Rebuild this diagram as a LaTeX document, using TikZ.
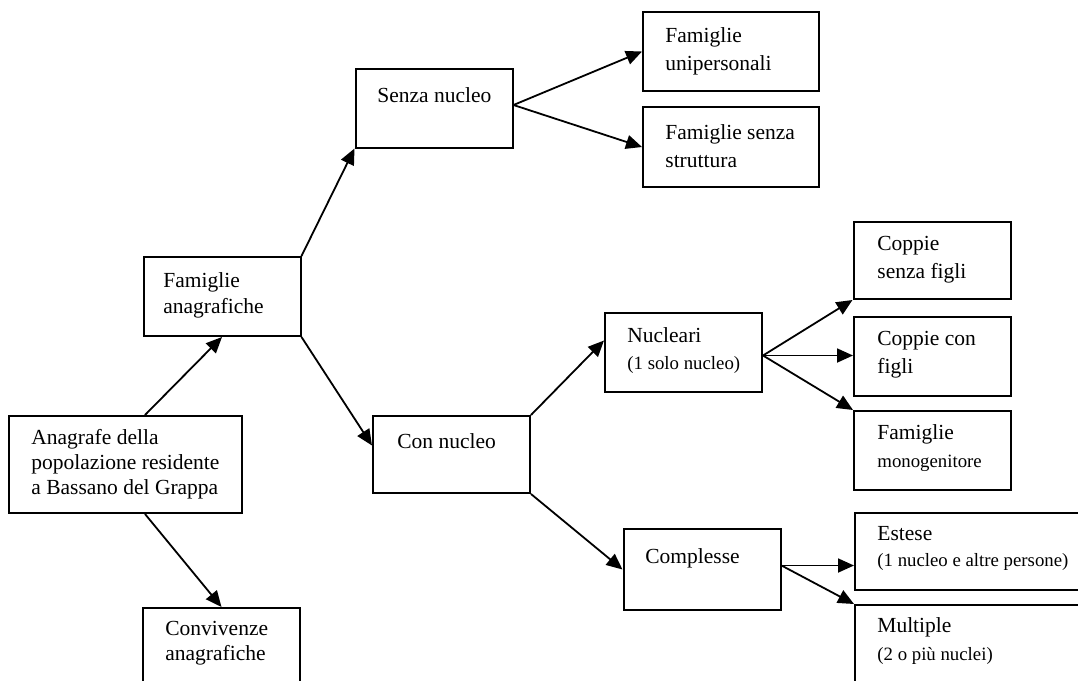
\documentclass[tikz,border=0pt]{standalone}
\usepackage{fontspec}
\setmainfont{Liberation Serif}
\usetikzlibrary{arrows.meta}

\begin{document}
\begin{tikzpicture}[x=0.5pt, y=-0.5pt,
    box/.style={draw, line width=1pt, inner sep=0pt, minimum width=78.5pt, minimum height=39.5pt},
    txt/.style={anchor=base west, inner sep=0pt, align=left, font=\fontsize{10.75}{14}\selectfont},
    tight/.style={font=\fontsize{10.75}{12.5}\selectfont},
    arr/.style={-{Triangle[length=8pt,width=7pt]}, line width=0.9pt}]
        \useasboundingbox (0,0) rectangle (1078,681);
        \clip (0,0) rectangle (1078,681);
        \newcommand{\sml}{\fontsize{9.4}{14}\selectfont}

        % first level (text nodes sit on the baseline of their last line)
        \node[box, minimum width=116.5pt, minimum height=48.5pt] (ana) at (125.5,464.5) {};
        \node[txt, tight] (ana-t) at (31,494) {Anagrafe della\\popolazione residente\\a Bassano del Grappa};

        \node[box] (fa) at (222,296.5) {};
        \node[txt, font=\fontsize{10.75}{13}\selectfont] (fa-t) at (163,313) {Famiglie\\anagrafiche};

        \node[box, minimum height=42pt] (conv) at (221.5,650) {};
        \node[txt, tight] (conv-t) at (165,660) {Convivenze\\anagrafiche};

        % senza nucleo
        \node[box] (sn) at (434,108) {};
        \node[txt] (sn-t) at (377,102) {Senza nucleo};

        \node[box, minimum width=88pt] (fu) at (731,51.5) {};
        \node[txt] (fu-t) at (665,70) {Famiglie\\unipersonali};

        \node[box, minimum width=88pt, minimum height=40pt] (fs) at (731,147) {};
        \node[txt] (fs-t) at (665,167) {Famiglie senza\\struttura};

        % con nucleo
        \node[box, minimum height=38.5pt] (cn) at (451.5,454.5) {};
        \node[txt] (cn-t) at (397,448) {Con nucleo};

        \node[box] (nu) at (683.5,352.5) {};
        \node[txt, font=\fontsize{10.75}{13.5}\selectfont] (nu-t) at (627,369) {Nucleari\\{\sml (1 solo nucleo)}};

        \node[box, minimum height=38.5pt] (csf) at (932,260.5) {};
        \node[txt] (csf-t) at (877,278) {Coppie\\senza figli};

        \node[box] (ccf) at (932.5,356.5) {};
        \node[txt] (ccf-t) at (877,373) {Coppie con\\figli};

        \node[box] (fm) at (932.5,450.5) {};
        \node[txt] (fm-t) at (877,467) {Famiglie\\{\sml monogenitore}};

        \node[box, minimum height=40.5pt] (co) at (702,569.5) {};
        \node[txt] (co-t) at (645,563) {Complesse};

        \node[box, minimum width=150pt, minimum height=38.5pt, anchor=north west] (es) at (854,512) {};
        \node[txt, font=\fontsize{10.75}{13}\selectfont] (es-t) at (877,566) {Estese\\{\sml (1 nucleo e altre persone)}};

        \node[box, minimum width=150pt, minimum height=45pt, anchor=north west] (mu) at (854,604) {};
        \node[txt] (mu-t) at (877,660) {Multiple\\{\sml (2 o più nuclei)}};

        % connectors
        \draw[arr] ([xshift=9.75pt]ana.north) -- (fa.south);
        \draw[arr] ([xshift=9.75pt]ana.south) -- (conv.north);
        \draw[arr] (fa.north east) -- (sn.south west);
        \draw[arr] (fa.south east) -- ([yshift=4.5pt]cn.west);
        \draw[arr] ([yshift=1.5pt]sn.east) -- (fu.west);
        \draw[arr] ([yshift=1.5pt]sn.east) -- (fs.west);
        \draw[arr] (cn.north east) -- ([yshift=6pt]nu.west);
        \draw[arr] (cn.south east) -- (co.west);
        \draw[arr] ([yshift=-1.5pt]nu.east) -- (csf.south west);
        \draw[arr] ([yshift=-1.5pt]nu.east) -- ([yshift=-1.5pt]nu.east -| ccf.west);
        \draw[arr] ([yshift=-1.5pt]nu.east) -- (fm.north west);
        \draw[arr] ([yshift=2pt]co.east) -- ([yshift=2pt]co.east -| es.west);
        \draw[arr] ([yshift=2pt]co.east) -- (mu.north west);
      \end{tikzpicture}
\end{document}
